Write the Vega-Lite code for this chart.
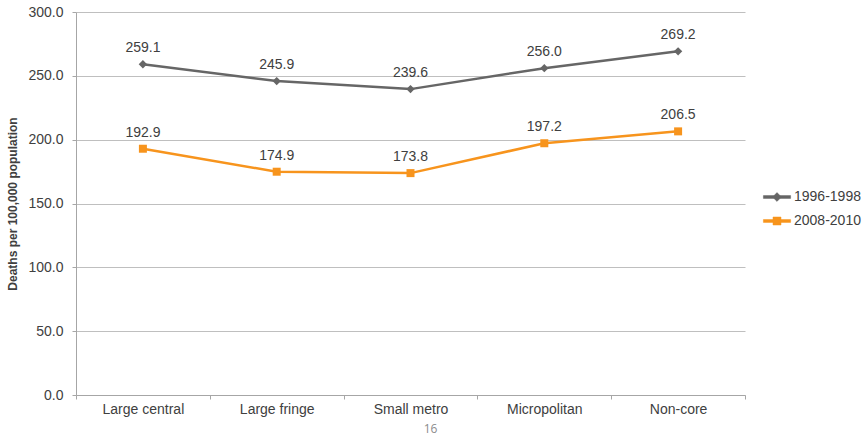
{
  "$schema": "https://vega.github.io/schema/vega-lite/v6.json",
  "width": 669,
  "height": 383,
  "autosize": "none",
  "padding": {"left": 76, "top": 12, "right": 122, "bottom": 44},
  "background": "white",
  "config": {
    "view": {"stroke": null},
    "font": "Liberation Sans",
    "axis": {"labelFont": "Liberation Sans", "titleFont": "Liberation Sans"}
  },
  "title": {
    "text": "16",
    "orient": "bottom",
    "anchor": "middle",
    "dx": 20,
    "offset": 8,
    "fontSize": 12,
    "fontWeight": "normal",
    "color": "#8c8c8c",
    "font": "Open Sans"
  },
  "data": {
    "values": [
      {"type": "Large central", "series": "1996-1998", "rate": 259.1},
      {"type": "Large fringe", "series": "1996-1998", "rate": 245.9},
      {"type": "Small metro", "series": "1996-1998", "rate": 239.6},
      {"type": "Micropolitan", "series": "1996-1998", "rate": 256.0},
      {"type": "Non-core", "series": "1996-1998", "rate": 269.2},
      {"type": "Large central", "series": "2008-2010", "rate": 192.9},
      {"type": "Large fringe", "series": "2008-2010", "rate": 174.9},
      {"type": "Small metro", "series": "2008-2010", "rate": 173.8},
      {"type": "Micropolitan", "series": "2008-2010", "rate": 197.2},
      {"type": "Non-core", "series": "2008-2010", "rate": 206.5}
    ]
  },
  "encoding": {
    "x": {
      "field": "type",
      "type": "nominal",
      "sort": ["Large central", "Large fringe", "Small metro", "Micropolitan", "Non-core"],
      "scale": {"paddingInner": 0, "paddingOuter": 0},
      "axis": {
        "title": null,
        "labelAngle": 0,
        "tickBand": "extent",
        "tickSize": 4,
        "tickColor": "#a6a6a6",
        "domainColor": "#a6a6a6",
        "labelPadding": 3,
        "labelFontSize": 14,
        "labelColor": "#404040",
        "grid": false
      }
    },
    "y": {
      "field": "rate",
      "type": "quantitative",
      "scale": {"domain": [0, 300], "nice": false},
      "axis": {
        "title": "Deaths per 100,000 population",
        "titleFontSize": 12,
        "titleFontWeight": "bold",
        "titleColor": "#404040",
        "titlePadding": 8,
        "values": [0, 50, 100, 150, 200, 250, 300],
        "format": ".1f",
        "labelFontSize": 14,
        "labelColor": "#404040",
        "labelPadding": 9,
        "tickSize": 4,
        "tickColor": "#a6a6a6",
        "domainColor": "#a6a6a6",
        "grid": true,
        "gridColor": "#bfbfbf",
        "gridWidth": 1
      }
    }
  },
  "layer": [
    {
      "mark": {"type": "line", "strokeWidth": 2.5},
      "encoding": {
        "color": {
          "field": "series",
          "type": "nominal",
          "title": null,
          "scale": {"domain": ["1996-1998", "2008-2010"], "range": ["#666666", "#F7941D"]},
          "legend": {
            "orient": "none",
            "legendX": 694,
            "legendY": 178,
            "padding": 0,
            "symbolSize": 64,
            "labelOffset": 10,
            "labelFontSize": 14,
            "labelFont": "Liberation Sans",
            "labelColor": "#404040",
            "rowPadding": 10,
            "encode": {
              "symbols": {
                "update": {
                  "strokeWidth": {"value": 0.5},
                  "opacity": {"value": 1},
                  "fillOpacity": {"value": 1},
                  "stroke": {"scale": "color", "field": "value"},
                  "fill": {"scale": "color", "field": "value"},
                  "shape": [
                    {"test": "datum.value === '2008-2010'", "value": "M-3.4,-0.35L3.4,-0.35L3.4,0.35L-3.4,0.35ZM-1,-1L1,-1L1,1L-1,1Z"},
                    {"value": "M-3.4,-0.35L3.4,-0.35L3.4,0.35L-3.4,0.35ZM0,-1.1L1.1,0L0,1.1L-1.1,0Z"}
                  ]
                }
              }
            }
          }
        }
      }
    },
    {
      "transform": [{"filter": "datum.series === '1996-1998'"}],
      "mark": {"type": "point", "filled": true, "size": 70, "strokeWidth": 0, "opacity": 1, "shape": "diamond", "color": "#666666"}
    },
    {
      "transform": [{"filter": "datum.series === '2008-2010'"}],
      "mark": {"type": "point", "filled": true, "size": 64, "strokeWidth": 0, "opacity": 1, "shape": "square", "color": "#F7941D"}
    },
    {
      "mark": {"type": "text", "dy": -16, "fontSize": 14, "color": "#404040"},
      "encoding": {
        "text": {"field": "rate", "type": "quantitative", "format": ".1f"}
      }
    }
  ]
}
